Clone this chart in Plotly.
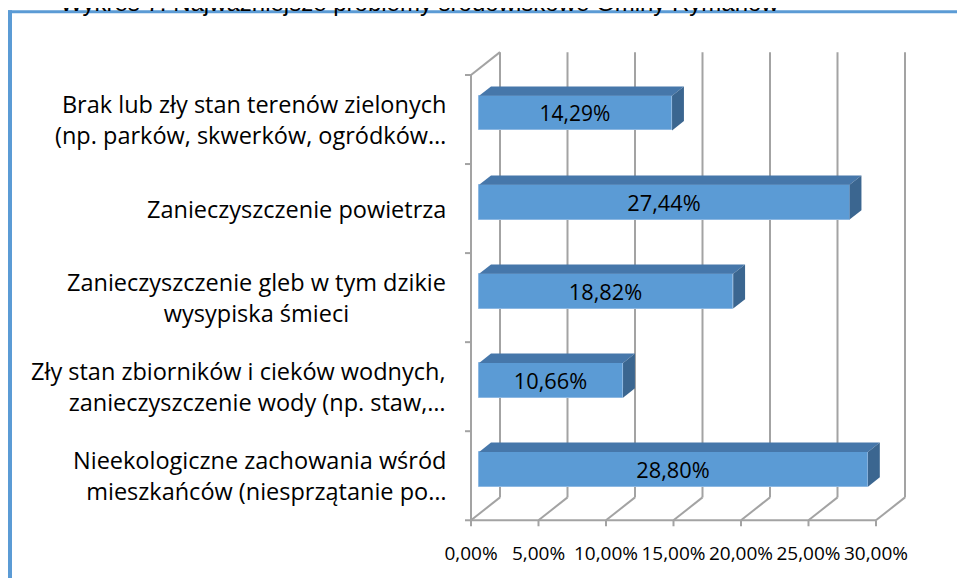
import plotly.graph_objects as go

# ------------------------
# Data
# ------------------------
categories = [
    "Brak lub zły stan terenów zielonych<br>(np. parków, skwerków, ogródków…",
    "Zanieczyszczenie powietrza",
    "Zanieczyszczenie gleb w tym dzikie<br>wysypiska śmieci",
    "Zły stan zbiorników i cieków wodnych,<br>zanieczyszczenie wody (np. staw,…",
    "Nieekologiczne zachowania wśród<br>mieszkańców (niesprzątanie po…",
]
values = [14.29, 27.44, 18.82, 10.66, 28.80]
label_align = ["right", "right", "center", "right", "right"]
x_ticks = [0, 5, 10, 15, 20, 25, 30]
x_ticktext = ["0,00%", "5,00%", "10,00%", "15,00%", "20,00%", "25,00%", "30,00%"]
title_text = "Wykres 7. Najważniejsze problemy środowiskowe Gminy Rymanów"

# ------------------------
# Geometry (given in page pixels; the page body has an 8px margin)
# ------------------------
PAGE_W, PAGE_H = 965, 586
OFF = 8
FIG_W, FIG_H = PAGE_W - 2 * OFF, PAGE_H - 2 * OFF

PX_PCT = 13.5          # pixels per percent
PX_CAT = 89.6          # pixels per category
X0_PX = 471            # page pixel of 0% on the front plane
Y4_PX = 120            # page pixel of the top category centre, front plane
L, R_EDGE, T, B = 455, 920, 40, 535   # plot area, page pixels
W, H = R_EDGE - L, B - T

DX = 29 / PX_PCT       # full depth offset, x (data units)
DY = 23 / PX_CAT       # full depth offset, y (data units)
Z0, Z1 = 0.28, 0.69    # bar front / back depth
HALF = 0.195           # half bar thickness

n = len(categories)
ypos = [n - 1 - i for i in range(n)]
y_lo, y_hi = -0.5, n - 0.5
x_max = x_ticks[-1]

x_range = [(L - X0_PX) / PX_PCT, (R_EDGE - X0_PX) / PX_PCT]
y_range = [n - 1 - (B - Y4_PX) / PX_CAT, n - 1 - (T - Y4_PX) / PX_CAT]


def px_x(p):
    return (p - L) / W


def px_y(p):
    return (B - p) / H


FRONT = "#5b9bd5"
TOP = "#4677aa"
SIDE = "#3b6690"
GRID = "#a3a3a3"
FONT = "Open Sans"

fig = go.Figure()

# top and side faces of the bars
for v, yc in zip(values, ypos):
    a0 = Z0 * DX
    b0 = yc + Z0 * DY
    dz = Z1 - Z0
    top_x = [a0, a0 + v, a0 + v + dz * DX, a0 + dz * DX, a0]
    top_y = [b0 + HALF, b0 + HALF, b0 + HALF + dz * DY, b0 + HALF + dz * DY, b0 + HALF]
    side_x = [a0 + v, a0 + v, a0 + v + dz * DX, a0 + v + dz * DX, a0 + v]
    side_y = [b0 - HALF, b0 + HALF, b0 + HALF + dz * DY, b0 - HALF + dz * DY, b0 - HALF]
    fig.add_trace(go.Scatter(x=top_x, y=top_y, fill="toself", fillcolor=TOP,
                             mode="lines", line=dict(width=0), hoverinfo="skip",
                             showlegend=False))
    fig.add_trace(go.Scatter(x=side_x, y=side_y, fill="toself", fillcolor=SIDE,
                             mode="lines", line=dict(width=0), hoverinfo="skip",
                             showlegend=False))

# front faces
fig.add_trace(go.Bar(
    orientation="h",
    x=values,
    y=[yc + Z0 * DY for yc in ypos],
    base=Z0 * DX,
    width=2 * HALF,
    marker=dict(color=FRONT, line=dict(color="#8db8e2", width=1)),
    texttemplate="%{x:.2f}%",
    textposition="inside",
    insidetextanchor="middle",
    textfont=dict(family=FONT, size=25.5, color="black"),
    hoverinfo="skip",
    showlegend=False,
))

# ------------------------
# Box: back wall gridlines, floor, left axis
# ------------------------
shapes = []
gl = dict(color=GRID, width=2)
for t in x_ticks:
    shapes.append(dict(type="line", xref="x", yref="y", layer="below",
                       x0=t + DX, x1=t + DX, y0=y_lo + DY, y1=y_hi + DY, line=gl))
    shapes.append(dict(type="line", xref="x", yref="y", layer="below",
                       x0=t, x1=t + DX, y0=y_lo, y1=y_lo + DY, line=gl))
    shapes.append(dict(type="line", xref="x", yref="y", layer="below",
                       xsizemode="scaled", ysizemode="pixel", yanchor=y_lo,
                       x0=t, x1=t, y0=0, y1=-6, line=gl))
shapes.append(dict(type="line", xref="x", yref="y", layer="below",
                   x0=0, x1=x_max, y0=y_lo, y1=y_lo, line=gl))
shapes.append(dict(type="line", xref="x", yref="y", layer="below",
                   x0=0, x1=0, y0=y_lo, y1=y_hi, line=gl))
shapes.append(dict(type="line", xref="x", yref="y", layer="below",
                   x0=0, x1=DX, y0=y_hi, y1=y_hi + DY, line=gl))
for k in range(n + 1):
    shapes.append(dict(type="line", xref="x", yref="y", layer="below",
                       xsizemode="pixel", xanchor=0, x0=-6, x1=0,
                       y0=y_lo + k, y1=y_lo + k, line=gl))

# outer frame (left and top blue border)
shapes.append(dict(type="rect", xref="paper", yref="paper", layer="below",
                   x0=px_x(7), x1=px_x(12), y0=px_y(PAGE_H + 10), y1=px_y(10),
                   fillcolor="#5b9bd5", line=dict(width=0)))
shapes.append(dict(type="rect", xref="paper", yref="paper", layer="below",
                   x0=px_x(7), x1=px_x(PAGE_W + 10), y0=px_y(13), y1=px_y(10),
                   fillcolor="#5b9bd5", line=dict(width=0)))

# category labels
annotations = []
for cat, yc, al in zip(categories, ypos, label_align):
    annotations.append(dict(
        xref="x", yref="y", x=0, y=yc, xanchor="right", yanchor="middle",
        xshift=-23, text=cat, align=al, showarrow=False,
        font=dict(family=FONT, size=23.5, color="black"),
    ))

# title, mostly above the visible area as in the source image
annotations.append(dict(
    xref="paper", yref="paper", x=px_x(58), y=px_y(18), xanchor="left",
    yanchor="bottom", text=title_text, showarrow=False,
    font=dict(family="Liberation Sans", size=24, color="black"),
))

fig.update_layout(
    width=FIG_W,
    height=FIG_H,
    paper_bgcolor="white",
    plot_bgcolor="white",
    margin=dict(l=L - OFF, r=PAGE_W - OFF - R_EDGE, t=T - OFF, b=PAGE_H - OFF - B),
    xaxis=dict(
        range=x_range,
        tickvals=x_ticks,
        ticktext=x_ticktext,
        showgrid=False,
        zeroline=False,
        showline=False,
        ticks="",
        ticklabelstandoff=8,
        tickfont=dict(family=FONT, size=19, color="black"),
    ),
    yaxis=dict(
        range=y_range,
        showgrid=False,
        zeroline=False,
        showline=False,
        showticklabels=False,
    ),
    separators=",.",
    shapes=shapes,
    annotations=annotations,
    bargap=0,
)

fig.write_html("out.html")
